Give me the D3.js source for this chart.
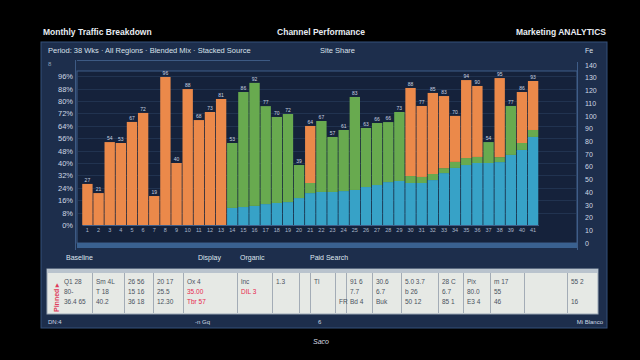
<!DOCTYPE html>
<html><head><meta charset="utf-8">
<script src="https://cdn.jsdelivr.net/npm/d3@7"></script>
<style>html,body{margin:0;background:#000;}svg{display:block;font-family:"Liberation Sans",Arial,sans-serif}</style>
</head><body>
<svg id="c" width="640" height="360"></svg>
<script>
const categories = d3.range(1, 42).map(String);
const blueVals = [0,0,0,0,0,0,0,0,0,0,0,0,0,
  11,11.6,12.3,13.5,14.2,14.8,17.4,20.6,21.3,21.3,21.9,22.6,24.5,25.8,27.7,28.4,
  27.1,27.1,29,33.5,36.8,38.7,40,40,40.6,45.2,48.4,56.8];
const greenVals = [0,0,0,0,0,0,0,0,0,0,0,0,0,
  41.9,74.2,79.4,63.2,55.5,56.8,21.3,6.5,45.8,35.5,39.4,60,38.1,40,38.7,44.5,
  4.5,3.9,3.9,3.2,3.9,4.5,3.9,13.5,3.2,31.6,4.5,4.5];
const orangeVals = [26.5,20.6,53.5,52.9,66.5,72.3,18.7,95.5,40,87.7,67.7,72.9,81.3,
  0,0,0,0,0,0,0,36.8,0,0,0,0,0,0,0,0,
  56.8,45.8,52.3,46.5,29.7,50.3,45.8,0,51,0,32.9,31.6];
const leftTicks = d3.range(0, 100, 8);
const rightTicks = d3.range(0, 150, 10);
const legendLabels = ["Baseline", "Display", "Organic", "Paid Search"];
const tableCells = [
  ["Q1 28", "80-", "36.4 65"], ["Sm 4L", "T 18", "40.2"], ["26 56", "15 16", "36 18"],
  ["20 17", "25.5", "12.30"], ["Ox 4", "35.00", "Tbr 57"], ["lnc", "DIL 3", ""],
  ["1.3", "", ""], ["", "", ""], ["Tl", "", ""], ["", "", "FR"], ["91 6", "7.7", "Bd 4"],
  ["30.6", "6.7", "Buk"], ["5.0 3.7", "b 26", "50 12"], ["28 C", "6.7", "85 1"],
  ["Pix", "80.0", "E3 4"], ["m 17", "55", "46"], ["", "", ""], ["55 2", "", "16"]
];
const tableEdges = [48, 92, 124, 153, 183, 237, 272, 299, 310, 335, 346, 372, 401, 438, 463, 490, 524, 567, 597];

const svg = d3.select("#c");
const colors = {blue: "#37a2c7", green: "#68aa4f", orange: "#eb894a"};

// page header
svg.append("text").attr("x", 43).attr("y", 35).attr("fill", "#e8ecf2").attr("font-size", 8.5).attr("font-weight", "bold").text("Monthly Traffic Breakdown");
svg.append("text").attr("x", 321).attr("y", 35).attr("fill", "#e8ecf2").attr("font-size", 8.5).attr("font-weight", "bold").attr("text-anchor", "middle").text("Channel Performance");
svg.append("text").attr("x", 606).attr("y", 35).attr("fill", "#e8ecf2").attr("font-size", 8.5).attr("font-weight", "bold").attr("text-anchor", "end").text("Marketing ANALYTICS");

// panel
svg.append("rect").attr("x", 41).attr("y", 42).attr("width", 566).attr("height", 286).attr("fill", "#1d2e4c").attr("stroke", "#34507a").attr("stroke-width", 1);
svg.append("text").attr("x", 48).attr("y", 53).attr("fill", "#d8e0ea").attr("font-size", 7.5).text("Period: 38 Wks · All Regions · Blended Mix · Stacked Source");
svg.append("text").attr("x", 320).attr("y", 53).attr("fill", "#d8e0ea").attr("font-size", 7.5).text("Site Share");
svg.append("text").attr("x", 585).attr("y", 53).attr("fill", "#d8e0ea").attr("font-size", 7).text("Fe");
svg.append("line").attr("x1", 77).attr("x2", 270).attr("y1", 60.5).attr("y2", 60.5).attr("stroke", "#3d5a84");
svg.append("line").attr("x1", 75.5).attr("x2", 75.5).attr("y1", 60).attr("y2", 250).attr("stroke", "#3d5a84");
svg.append("text").attr("x", 48).attr("y", 66).attr("fill", "#8ea0b8").attr("font-size", 6).text("8");

// plot area
const x = d3.scaleBand().domain(categories).range([82, 538.5]).paddingInner(0.07).paddingOuter(0.02);
const y = d3.scaleLinear().domain([0, 100]).range([225, 70]);
const y2 = d3.scaleLinear().domain([0, 140]).range([243, 65]);

svg.append("rect").attr("x", 77).attr("y", 71).attr("width", 500).attr("height", 172).attr("fill", "#15223b").attr("stroke", "#3f5d88");
svg.append("g").selectAll("line").data(leftTicks.filter(d => d > 0)).join("line")
  .attr("x1", 78).attr("x2", 576).attr("y1", d => Math.round(y(d)) + 0.5).attr("y2", d => Math.round(y(d)) + 0.5)
  .attr("stroke", "#243755").attr("stroke-width", 0.8);

const rows = categories.map((c, i) => ({cat: c, blue: blueVals[i], green: greenVals[i], orange: orangeVals[i]}));
const layers = d3.stack().keys(["blue", "green", "orange"])(rows);
svg.append("g").selectAll("g").data(layers).join("g")
  .attr("fill", d => colors[d.key])
  .selectAll("rect").data(d => d.filter(v => v[1] > v[0])).join("rect")
  .attr("x", d => x(d.data.cat)).attr("width", x.bandwidth())
  .attr("y", d => y(d[1])).attr("height", d => y(d[0]) - y(d[1]));

// value labels
svg.append("g").selectAll("text").data(rows).join("text")
  .attr("x", d => x(d.cat) + x.bandwidth() / 2)
  .attr("y", d => y(d.blue + d.green + d.orange) - 2)
  .attr("text-anchor", "middle").attr("font-size", 5).attr("fill", "#c9d3e0")
  .text(d => Math.round(d.blue + d.green + d.orange));

// x axis labels
const gx = svg.append("g").attr("transform", "translate(0,225)").call(d3.axisBottom(x).tickSize(0).tickPadding(3));
gx.select(".domain").attr("stroke", "#3f5d88");
gx.selectAll("text").attr("fill", "#aab8cc").attr("font-size", 5.5);

// lower scroll strip
svg.append("rect").attr("x", 77).attr("y", 243).attr("width", 500).attr("height", 5).attr("fill", "#3a6190");

// left axis
const gl = svg.append("g").attr("transform", "translate(74,0)").call(d3.axisLeft(y).tickValues(leftTicks).tickSize(0).tickPadding(1).tickFormat(d => d + "%"));
gl.select(".domain").remove();
gl.selectAll("text").attr("fill", "#cfd8e4").attr("font-size", 7.5);

// right axis
svg.append("line").attr("x1", 577.5).attr("x2", 577.5).attr("y1", 62).attr("y2", 250).attr("stroke", "#3f5d88");
const gr = svg.append("g").attr("transform", "translate(584,0)").call(d3.axisRight(y2).tickValues(rightTicks).tickSize(0).tickPadding(1));
gr.select(".domain").remove();
gr.selectAll("text").attr("fill", "#cfd8e4").attr("font-size", 7);

// legend row
const legendX = [66, 198, 240, 310];
svg.append("g").selectAll("text").data(legendLabels).join("text")
  .attr("x", (d, i) => legendX[i]).attr("y", 260).attr("fill", "#dfe6ef").attr("font-size", 7).text(d => d);

// table strip
svg.append("rect").attr("x", 47).attr("y", 269).attr("width", 551).attr("height", 45).attr("fill", "#e6e9e5").attr("stroke", "#9aa6b4");
svg.append("rect").attr("x", 47).attr("y", 269).attr("width", 551).attr("height", 4).attr("fill", "#b9c3cd");
svg.append("g").selectAll("line").data(tableEdges.slice(1, -1)).join("line")
  .attr("x1", d => d + 0.5).attr("x2", d => d + 0.5).attr("y1", 273).attr("y2", 313).attr("stroke", "#a3acb6");
svg.append("text").attr("transform", "translate(59,312) rotate(-90)").attr("fill", "#e03a5a").attr("font-size", 7).attr("font-weight", "bold").text("Pinned ▸");
const cellG = svg.append("g");
tableCells.forEach((cell, i) => {
  const x0 = tableEdges[i] + (i === 0 ? 16 : 4);
  cell.forEach((t, j) => {
    const red = (i === 4 || i === 5) && j > 0;
    cellG.append("text").attr("x", x0).attr("y", 284 + j * 10).attr("font-size", 6.5)
      .attr("fill", red ? "#e8284e" : "#4a5260").text(t);
  });
});

// footer
svg.append("text").attr("x", 48).attr("y", 324).attr("fill", "#cfd8e4").attr("font-size", 6).text("DN:4");
svg.append("text").attr("x", 195).attr("y", 324).attr("fill", "#cfd8e4").attr("font-size", 6).text("-n Gq");
svg.append("text").attr("x", 318).attr("y", 324).attr("fill", "#cfd8e4").attr("font-size", 6).text("6");
svg.append("text").attr("x", 603).attr("y", 324).attr("fill", "#cfd8e4").attr("font-size", 6).attr("text-anchor", "end").text("Mi Blanco");
svg.append("text").attr("x", 321).attr("y", 344).attr("fill", "#d8dde4").attr("font-size", 7).attr("text-anchor", "middle").attr("font-style", "italic").text("Saco");
</script>
</body></html>
